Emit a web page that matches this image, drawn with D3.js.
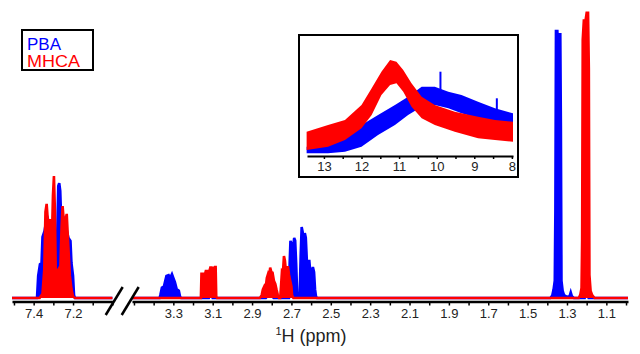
<!DOCTYPE html>
<html lang="en">

<head>
    <meta charset="UTF-8">
    <title>1H NMR PBA / MHCA</title>
    <script src="https://d3js.org/d3.v7.min.js"></script>
    <style>
        body { margin: 0; background: #fff; }
        svg text { font-family: Arial, "Liberation Sans", sans-serif; }
    </style>
</head>

<body>
    <div id="chart"></div>

    <script>
        // ppm ranges of the two axis pieces (broken axis) and of the inset
        const leftDomain = [7.51, 7.0];
        const rightDomain = [3.51, 0.99];
        const insetDomain = [13.45, 7.97];

        const leftTicks = [7.5, 7.4, 7.3, 7.2, 7.1, 7.0];
        const leftLabels = ["7.4", "7.2"];
        const rightTicks = [3.5, 3.4, 3.3, 3.2, 3.1, 3.0, 2.9, 2.8, 2.7, 2.6, 2.5, 2.4, 2.3, 2.2, 2.1, 2.0, 1.9, 1.8, 1.7, 1.6, 1.5, 1.4, 1.3, 1.2, 1.1, 1.0];
        const rightLabels = ["3.3", "3.1", "2.9", "2.7", "2.5", "2.3", "2.1", "1.9", "1.7", "1.5", "1.3", "1.1"];
        const insetTicks = [13, 12.5, 12, 11.5, 11, 10.5, 10, 9.5, 9, 8.5, 8];
        const insetLabels = ["13", "12", "11", "10", "9", "8"];

        const series = ["PBA", "MHCA"];
        const colors = { PBA: "#0000ff", MHCA: "#ff0000" };

        // [ppm, intensity]
        const pbaLeft = [
            [7.51, 0], [7.383, 0], [7.377, 7.7], [7.368, 11.8], [7.36, 12.2], [7.355, 21.3], [7.345, 23.3],
            [7.332, 28.6], [7.317, 25], [7.302, 20], [7.289, 5.9], [7.282, 16.4], [7.275, 39], [7.27, 40],
            [7.265, 37.3], [7.259, 25], [7.251, 28.6], [7.241, 26.8], [7.231, 23.3], [7.223, 20.9],
            [7.213, 19.9], [7.208, 12.2], [7.2, 7.7], [7.195, 1], [7.19, 0], [7.0, 0]
        ];
        const mhcaLeft = [
            [7.51, 0], [7.37, 0], [7.355, 1.5], [7.346, 10], [7.34, 30], [7.334, 32.8], [7.326, 25],
            [7.316, 27.5], [7.307, 21.6], [7.302, 35.5], [7.297, 42.5], [7.292, 30], [7.287, 4.2],
            [7.279, 9.4], [7.264, 11.1], [7.258, 25], [7.253, 32], [7.245, 25], [7.232, 29.3],
            [7.224, 18], [7.216, 7.7], [7.208, 3.1], [7.2, 0.5], [7.19, 0], [7.0, 0]
        ];
        const pbaRight = [
            [3.51, 0], [3.37, 0], [3.366, 1], [3.358, 3.6], [3.348, 4], [3.341, 6], [3.335, 7.7], [3.324, 8],
            [3.316, 7], [3.307, 8.3], [3.3, 7], [3.292, 5.5], [3.283, 3.1], [3.272, 2.5], [3.266, 0.5], [3.26, 0],
            [3.12, 0], [3.115, 1.2], [3.105, 1.2], [3.1, 0],
            [2.83, 0], [2.82, 0.8], [2.805, 1], [2.79, 0],
            [2.713, 0], [2.709, 12], [2.705, 19.9], [2.7, 19], [2.696, 15], [2.691, 18], [2.686, 20.9],
            [2.681, 20], [2.676, 12], [2.671, 2], [2.665, 0.5], [2.658, 1], [2.653, 15], [2.648, 24.7],
            [2.643, 23], [2.638, 19.9], [2.632, 22.6], [2.627, 21], [2.621, 12], [2.615, 12.9], [2.609, 12.9],
            [2.603, 8], [2.598, 9], [2.591, 10.8], [2.585, 9], [2.58, 3], [2.575, 0.5], [2.57, 0],
            [1.385, 0], [1.375, 0.8], [1.368, 3], [1.362, 6], [1.359, 30], [1.356, 93], [1.349, 93],
            [1.346, 88], [1.342, 91.9], [1.334, 91.9], [1.331, 60], [1.328, 6], [1.322, 2.5], [1.315, 1],
            [1.3, 0.4], [1.287, 0.6], [1.281, 2], [1.275, 0.6], [1.265, 0],
            [1.21, 0], [1.205, 1], [1.195, 1], [1.19, 0], [0.99, 0]
        ];
        const mhcaRight = [
            [3.51, 0], [3.16, 0], [3.157, 8.4], [3.146, 8.4], [3.14, 8], [3.135, 9.4], [3.124, 9.4], [3.118, 9],
            [3.112, 10.6], [3.104, 10.6], [3.096, 10.2], [3.09, 10.8], [3.085, 10.8], [3.082, 0.5], [3.078, 0],
            [2.86, 0], [2.851, 1], [2.845, 3], [2.837, 4.2], [2.831, 3.5], [2.825, 7], [2.819, 8.3], [2.813, 7],
            [2.808, 10.6], [2.802, 9], [2.796, 8.8], [2.789, 6], [2.782, 4.9], [2.776, 3], [2.769, 1], [2.763, 0],
            [2.757, 0], [2.752, 5], [2.748, 9.4], [2.743, 9], [2.738, 14.6], [2.733, 13], [2.729, 10.1],
            [2.723, 9], [2.718, 11.1], [2.712, 8], [2.706, 5.9], [2.7, 4], [2.697, 1], [2.69, 0],
            [1.24, 0], [1.232, 1.2], [1.226, 3.5], [1.223, 20], [1.22, 90], [1.214, 97.1], [1.209, 96],
            [1.205, 97], [1.2, 99.4], [1.193, 99.4], [1.189, 80], [1.186, 8], [1.18, 2.5], [1.172, 1],
            [1.16, 0], [0.99, 0]
        ];

        // inset: [ppm, lower edge, upper edge] of the noisy band
        const pbaInset = [
            [13.46, 2.7, 9.3], [12.89, 2.7, 11], [12.44, 4.3, 17.7], [12.0, 9.3, 31], [11.56, 21, 41],
            [11.11, 31, 51], [10.76, 41, 59.3], [10.4, 49.3, 69.3], [10.05, 51, 69.3], [9.69, 47.7, 64.3],
            [9.34, 42.7, 61], [8.9, 37.7, 54.3], [8.45, 34.3, 47.7], [7.97, 32.7, 42.7]
        ];
        const pbaInsetSpikes = [[9.9, 50, 84.3], [8.4, 34.3, 57.7]];
        const mhcaInset = [
            [13.46, 6, 24.3], [12.89, 9.3, 31], [12.44, 16, 36], [12.0, 27.7, 51], [11.73, 41, 67.7],
            [11.47, 61, 84.3], [11.24, 71, 96], [11.07, 72.7, 94.3], [10.89, 64.3, 86], [10.67, 49.3, 72.7],
            [10.4, 37.7, 59.3], [10.05, 31, 51], [9.52, 24.3, 44.3], [8.9, 17.7, 39.3], [8.45, 16, 36],
            [7.97, 14.3, 34.3]
        ];

        const width = 640, height = 354;
        const axisY = 301.5;

        const svg = d3.select("#chart")
            .append("svg")
            .attr("width", width)
            .attr("height", height);

        const xL = d3.scaleLinear().domain(leftDomain).range([12, 112.4]);
        const xR = d3.scaleLinear().domain(rightDomain).range([132, 628]);
        const y = d3.scaleLinear().domain([0, 100]).range([298, 11]);

        function drawTrace(data, x, color) {
            svg.append("path")
                .datum(data)
                .attr("fill", color)
                .attr("d", d3.area().x(d => x(d[0])).y0(y(0)).y1(d => y(d[1])));
            svg.append("path")
                .datum(data)
                .attr("fill", "none")
                .attr("stroke", color)
                .attr("stroke-width", 2.6)
                .attr("d", d3.line().x(d => x(d[0])).y(d => y(d[1])));
        }

        function styleAxis(g) {
            g.select(".domain").attr("stroke", "#000").attr("stroke-width", 2.5);
            g.selectAll(".tick line").attr("stroke", "#000").attr("stroke-width", 1.5);
            g.selectAll(".tick text").attr("fill", "#222").style("font-size", "13px");
        }

        const fmt = labels => d => labels.includes(d.toFixed(1)) ? d.toFixed(1) : "";

        svg.append("g")
            .attr("transform", `translate(0,${axisY})`)
            .call(d3.axisBottom(xL).tickValues(leftTicks).tickFormat(fmt(leftLabels))
                .tickSize(4).tickSizeOuter(0).tickPadding(3))
            .call(styleAxis);

        svg.append("g")
            .attr("transform", `translate(0,${axisY})`)
            .call(d3.axisBottom(xR).tickValues(rightTicks).tickFormat(fmt(rightLabels))
                .tickSize(4).tickSizeOuter(0).tickPadding(3))
            .call(styleAxis);

        drawTrace(pbaLeft, xL, colors.PBA);
        drawTrace(pbaRight, xR, colors.PBA);
        drawTrace(mhcaLeft, xL, colors.MHCA);
        drawTrace(mhcaRight, xR, colors.MHCA);

        // axis break marks
        const gap = (xL.range()[1] + xR.range()[0]) / 2;
        [-8, 8].forEach(off => {
            svg.append("line")
                .attr("x1", gap + off - 8.5).attr("y1", axisY + 13.5)
                .attr("x2", gap + off + 8.5).attr("y2", axisY - 14.5)
                .attr("stroke", "#000").attr("stroke-width", 2.5);
        });

        // axis title
        const title = svg.append("text")
            .attr("x", 311).attr("y", 341.5)
            .attr("text-anchor", "middle")
            .attr("fill", "#222")
            .style("font-size", "18px");
        title.append("tspan").text("1").style("font-size", "11px").attr("dy", -7);
        title.append("tspan").text("H (ppm)").attr("dy", 7);

        // legend
        svg.append("rect")
            .attr("x", 22).attr("y", 30).attr("width", 71).attr("height", 40)
            .attr("fill", "#fff").attr("stroke", "#000").attr("stroke-width", 2);
        series.forEach((s, i) => {
            svg.append("text")
                .attr("x", 27).attr("y", 49.5 + i * 17)
                .attr("fill", colors[s])
                .style("font-size", "16px")
                .attr("textLength", s === "PBA" ? 34 : 53)
                .attr("lengthAdjust", "spacingAndGlyphs")
                .text(s);
        });

        // inset
        const xi = d3.scaleLinear().domain(insetDomain).range([307, 513]);
        const yi = d3.scaleLinear().domain([0, 100]).range([156, 56]);

        svg.append("rect")
            .attr("x", 299).attr("y", 35).attr("width", 219).attr("height", 142)
            .attr("fill", "#fff").attr("stroke", "#000").attr("stroke-width", 2);

        const band = d3.area().x(d => xi(d[0])).y0(d => yi(d[1])).y1(d => yi(d[2]));

        svg.append("path").datum(pbaInset).attr("fill", colors.PBA).attr("d", band);
        svg.selectAll(".spike")
            .data(pbaInsetSpikes)
            .join("line")
            .attr("class", "spike")
            .attr("x1", d => xi(d[0])).attr("x2", d => xi(d[0]))
            .attr("y1", d => yi(d[1])).attr("y2", d => yi(d[2]))
            .attr("stroke", colors.PBA).attr("stroke-width", 2);
        svg.append("path").datum(mhcaInset).attr("fill", colors.MHCA).attr("d", band);

        svg.append("g")
            .attr("transform", "translate(0,156)")
            .call(d3.axisBottom(xi).tickValues(insetTicks)
                .tickFormat(d => insetLabels.includes(String(d)) ? String(d) : "")
                .tickSize(3).tickSizeOuter(0).tickPadding(3))
            .call(g => {
                g.select(".domain").attr("stroke", "#000").attr("stroke-width", 2);
                g.selectAll(".tick line").attr("stroke", "#000").attr("stroke-width", 1.5);
                g.selectAll(".tick text").attr("fill", "#222").style("font-size", "13px");
            });
    </script>
</body>

</html>
